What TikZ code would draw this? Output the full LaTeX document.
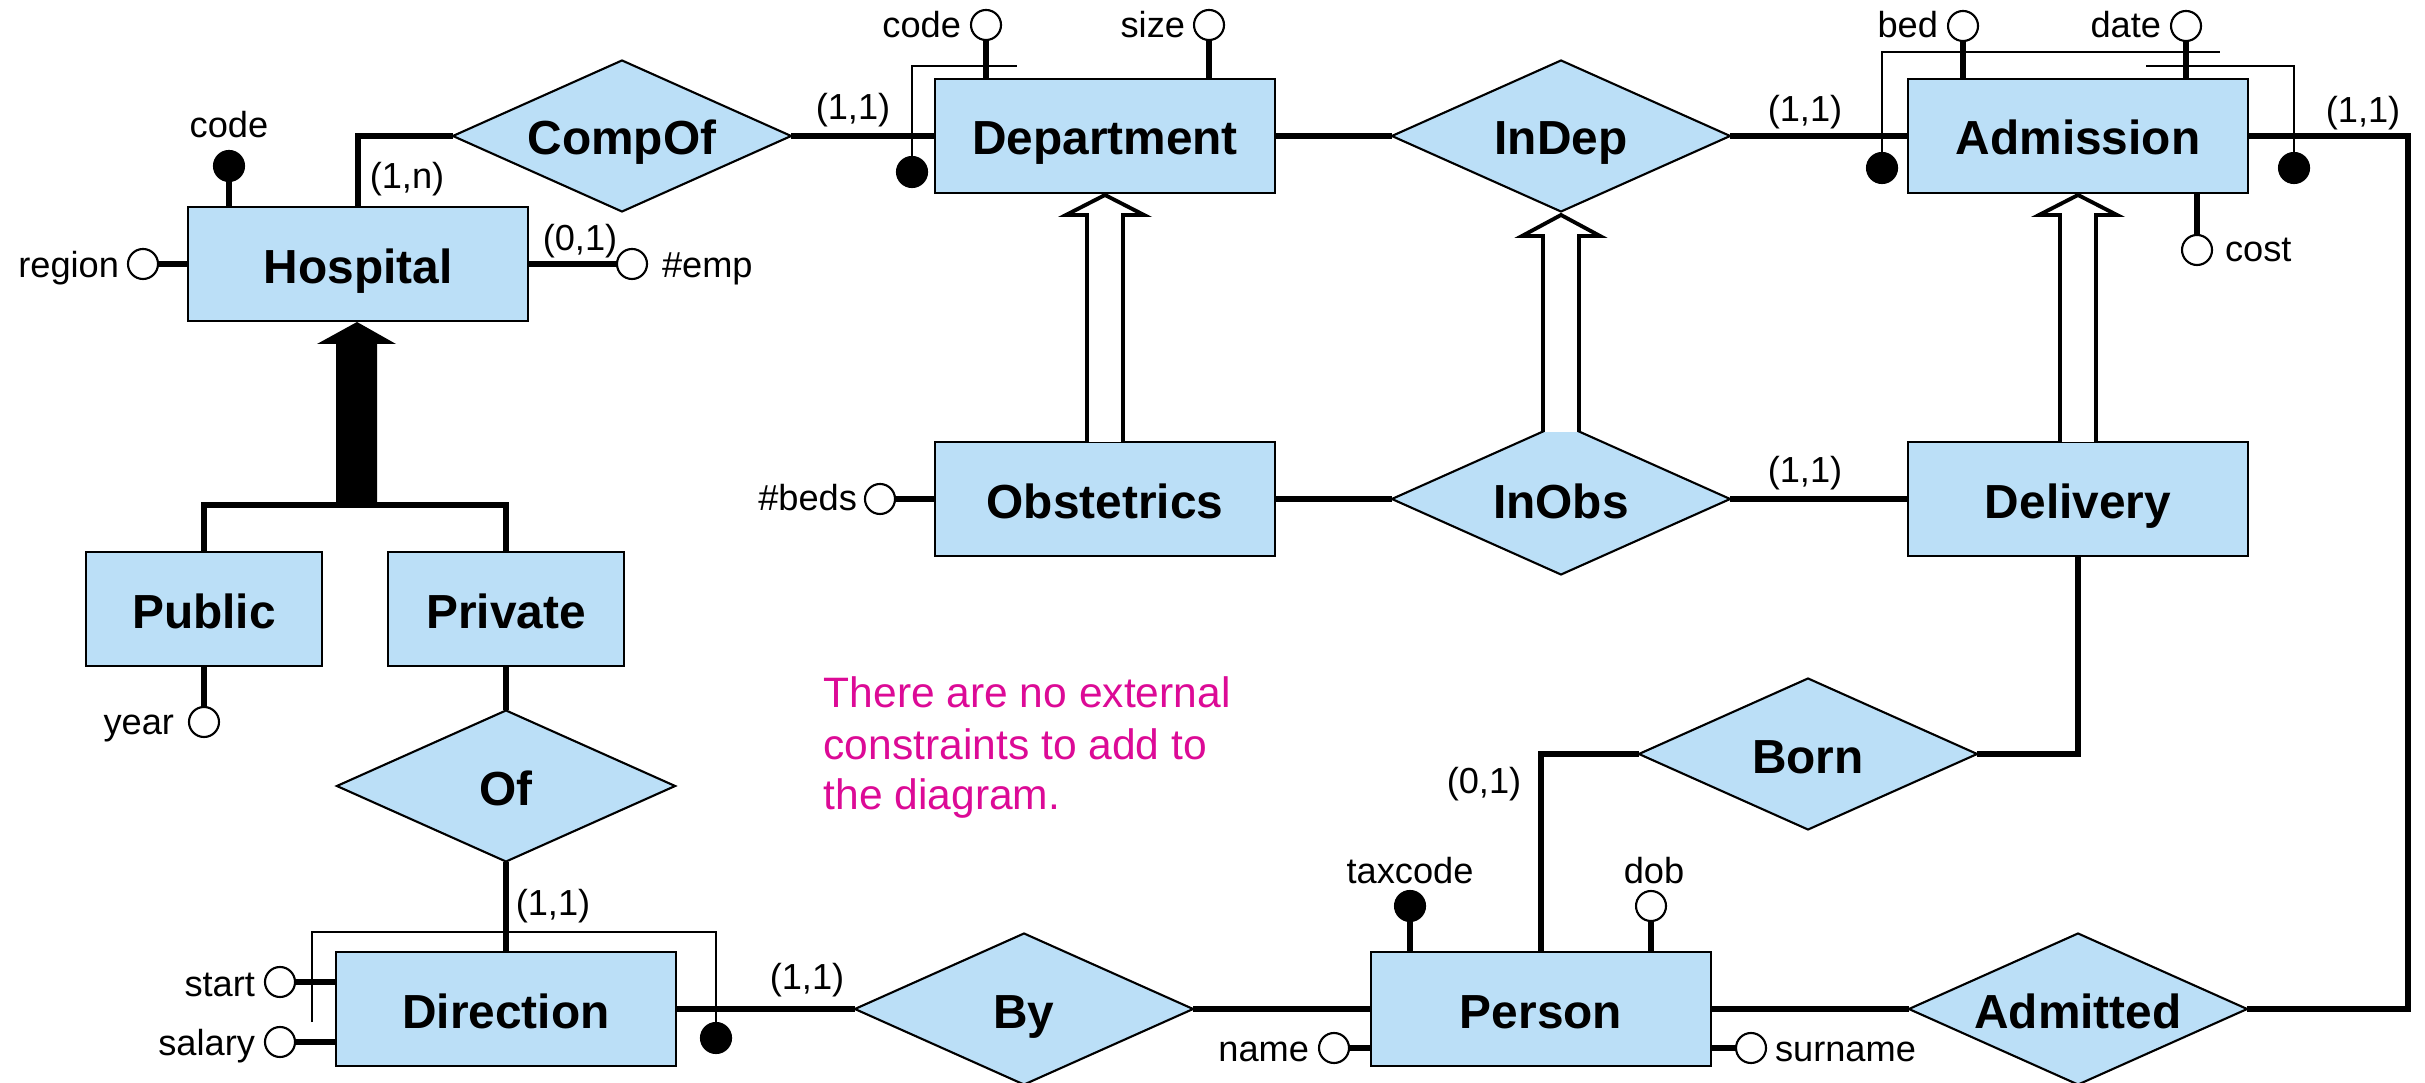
\documentclass[tikz,border=0pt]{standalone}
\usepackage{fontspec}
\setmainfont{Liberation Sans}
\usetikzlibrary{shapes.geometric}
\definecolor{entblue}{HTML}{BBDFF7}
\definecolor{notepink}{RGB}{220,10,150}
\newcommand{\erbig}{\fontsize{13.6}{16}\selectfont\bfseries}
\newcommand{\ersmall}{\fontsize{10.3}{12}\selectfont}
\newcommand{\ernote}{\fontsize{12.1}{14.5}\selectfont}
\begin{document}
\begin{tikzpicture}[x=0.01cm, y=-0.01cm,
 ent/.style={draw, line width=0.6pt, fill=entblue, minimum width=3.4cm, minimum height=1.14cm, inner sep=0pt, outer sep=0pt, font=\erbig, text height=0.38cm, text depth=0pt},
 subent/.style={ent, minimum width=2.35cm},
 rel/.style={diamond, aspect=2.24, draw, line width=0.6pt, fill=entblue, minimum width=3.38cm, minimum height=1.51cm, inner sep=0pt, outer sep=0pt, font=\erbig, text height=0.38cm, text depth=0pt},
 attr/.style={circle, draw, line width=0.6pt, fill=white, minimum size=0.3cm, inner sep=0pt, outer sep=0pt},
 keyattr/.style={attr, fill=black},
 conn/.style={line width=1.45pt},
 idline/.style={line width=0.65pt},
 isa/.style={line width=1.1pt, fill=white, line join=miter},
 lbl/.style={font=\ersmall, inner sep=0pt, outer sep=0pt},
 card/.style={font=\ersmall, inner sep=0pt, outer sep=0pt},
 note/.style={font=\ernote, text=notepink, inner sep=0pt, anchor=base west}
]
\useasboundingbox (0,0) rectangle (2425,1083);

% ---------- entities ----------
\node[ent] (hosp) at (358,264) {Hospital};
\node[ent] (dept) at (1105,136) {Department};
\node[ent] (adm) at (2078,136) {Admission};
\node[subent] (public) at (204,609) {Public};
\node[subent] (private) at (506,609) {Private};
\node[ent] (obst) at (1105,499) {Obstetrics};
\node[ent] (deliv) at (2078,499) {Delivery};
\node[ent] (dir) at (506,1009) {Direction};
\node[ent] (person) at (1541,1009) {Person};

% ---------- relationships ----------
\node[rel] (compof) at (622,136) {CompOf};
\node[rel] (indep) at (1561,136) {InDep};
\node[rel] (inobs) at (1561,499) {InObs};
\node[rel] (born) at (1808,754) {Born};
\node[rel] (admitted) at (2078,1009) {Admitted};
\node[rel] (by) at (1024,1009) {By};
\node[rel] (of) at (506,786) {Of};

% ---------- relationship connectors ----------
\draw[conn] (hosp.north) |- (compof.west);
\draw[conn] (compof.east) -- (dept.west);
\draw[conn] (dept.east) -- (indep.west);
\draw[conn] (indep.east) -- (adm.west);
\coordinate (admcorner) at (2408,136);
\draw[conn] (adm.east) -- (admcorner) |- (admitted.east);
\draw[conn] (obst.east) -- (inobs.west);
\draw[conn] (inobs.east) -- (deliv.west);
\draw[conn] (born.east) -| (deliv.south);
\draw[conn] (person.north) |- (born.west);
\draw[conn] (person.east) -- (admitted.west);
\draw[conn] (by.east) -- (person.west);
\draw[conn] (dir.east) -- (by.west);
\draw[conn] (private.south) -- (of.north);
\draw[conn] (of.south) -- (dir.north);

% ---------- generalizations ----------
\coordinate (hbar) at (356,505);
\draw[conn] (public.north) |- (hbar) -| (private.north);
\fill (336,507) -- (336,344) -- (317,344) -- (357,322) -- (396,344) -- (377,344) -- (377,507) -- cycle;
\draw[isa] (1087,442) -- (1087,215) -- (1066,215) -- (1105,195) -- (1144,215) -- (1123,215) -- (1123,442);
\draw[isa] (2060,442) -- (2060,215) -- (2039,215) -- (2078,195) -- (2117,215) -- (2096,215) -- (2096,442);
\draw[isa] (1543,432) -- (1543,236) -- (1522,236) -- (1561,215) -- (1600,236) -- (1579,236) -- (1579,432);

% ---------- attributes ----------
% Hospital
\node[keyattr] (hcode) at (229,166) {};
\draw[conn] (hcode.south) -- (hcode.south |- hosp.north);
\node[lbl, anchor=base] (hcodel) at (229,138) {code};
\node[attr] (hreg) at (143,264) {};
\draw[conn] (hreg.east) -- (hosp.west);
\node[lbl, anchor=base east] (hregl) at (119,278) {region};
\node[attr] (hemp) at (632,264) {};
\draw[conn] (hosp.east) -- (hemp.west);
\node[lbl, anchor=base west] (hempl) at (662,278) {\#emp};
\node[card] (c1) at (580,241) {(0,1)};
\node[card] (c2) at (407,179) {(1,n)};
\node[card] (c3) at (853,110) {(1,1)};
% Department
\node[attr] (dcode) at (986,25) {};
\draw[conn] (dcode.south) -- (dcode.south |- dept.north);
\node[lbl, anchor=base east] (dcodel) at (961,38) {code};
\node[attr] (dsize) at (1209,25) {};
\draw[conn] (dsize.south) -- (dsize.south |- dept.north);
\node[lbl, anchor=base east] (dsizel) at (1185,38) {size};
\node[keyattr] (dkey) at (912,172) {};
\coordinate (dkeyend) at (1017,66);
\draw[idline] (dkey.north) |- (dkeyend);
% Admission
\node[attr] (abed) at (1963,26) {};
\draw[conn] (abed.south) -- (abed.south |- adm.north);
\node[lbl, anchor=base east] (abedl) at (1938,38) {bed};
\node[attr] (adate) at (2186,26) {};
\draw[conn] (adate.south) -- (adate.south |- adm.north);
\node[lbl, anchor=base east] (adatel) at (2161,38) {date};
\node[attr] (acost) at (2197,250) {};
\draw[conn] (acost.north) -- (acost.north |- adm.south);
\node[lbl, anchor=base west] (acostl) at (2225,262) {cost};
\node[keyattr] (akey1) at (1882,168) {};
\coordinate (akey1end) at (2220,52);
\draw[idline] (akey1.north) |- (akey1end);
\node[keyattr] (akey2) at (2294,168) {};
\coordinate (akey2end) at (2146,66);
\draw[idline] (akey2.north) |- (akey2end);
\node[card] (c4) at (1805,112) {(1,1)};
\node[card] (c5) at (2363,113) {(1,1)};
% Obstetrics
\node[attr] (obeds) at (880,499) {};
\draw[conn] (obeds.east) -- (obst.west);
\node[lbl, anchor=base east] (obedsl) at (857,511) {\#beds};
\node[card] (c6) at (1805,473) {(1,1)};
% Public
\node[attr] (pyear) at (204,722) {};
\draw[conn] (public.south) -- (pyear.north);
\node[lbl, anchor=base east] (pyearl) at (174,735) {year};
% Direction
\node[card] (c7) at (553,906) {(1,1)};
\node[attr] (dstart) at (280,982) {};
\draw[conn] (dstart.east) -- (dstart.east -| dir.west);
\node[lbl, anchor=base east] (dstartl) at (255,996) {start};
\node[attr] (dsal) at (280,1042) {};
\draw[conn] (dsal.east) -- (dsal.east -| dir.west);
\node[lbl, anchor=base east] (dsall) at (255,1055) {salary};
\coordinate (dirbr) at (312,1022);
\node[keyattr] (dirkey) at (716,1038) {};
\draw[idline] (dirbr) |- (716,932) -- (dirkey.north);
\node[card] (c8) at (807,980) {(1,1)};
% Person
\node[keyattr] (ptax) at (1410,906) {};
\draw[conn] (ptax.south) -- (ptax.south |- person.north);
\node[lbl, anchor=base] (ptaxl) at (1410,883) {taxcode};
\node[attr] (pdob) at (1651,906) {};
\draw[conn] (pdob.south) -- (pdob.south |- person.north);
\node[lbl, anchor=base] (pdobl) at (1654,883) {dob};
\node[attr] (pname) at (1334,1048) {};
\draw[conn] (pname.east) -- (pname.east -| person.west);
\node[lbl, anchor=base east] (pnamel) at (1309,1061) {name};
\node[attr] (psur) at (1751,1048) {};
\draw[conn] (psur.west) -- (psur.west -| person.east);
\node[lbl, anchor=base west] (psurl) at (1775,1061) {surname};
\node[card] (c9) at (1484,784) {(0,1)};

% ---------- note ----------
\node[note] (note1) at (823,708) {There are no external};
\node[note] (note2) at (823,759) {constraints to add to};
\node[note] (note3) at (823,809) {the diagram.};
\end{tikzpicture}
\end{document}
